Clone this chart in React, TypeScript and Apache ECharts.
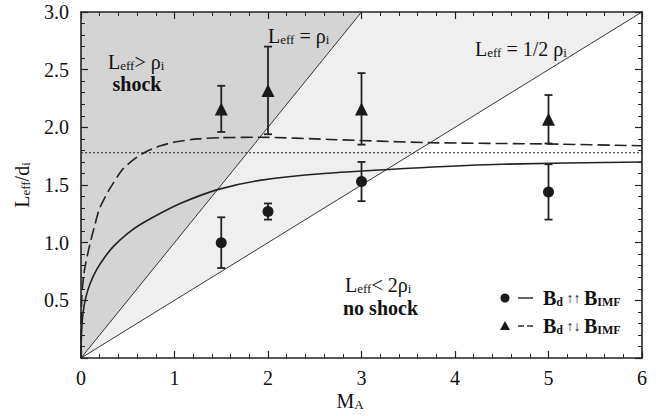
import React, { useEffect, useRef } from 'react';
import * as echarts from 'echarts';

// Measured data (M_A positions, mean L_eff/d_i, half error bar)
const machA = [1.5, 2, 3, 5];
const parallelMean = [1.0, 1.27, 1.53, 1.44];
const parallelErr = [0.22, 0.07, 0.17, 0.24];
const antiMean = [2.16, 2.32, 2.16, 2.07];
const antiErr = [0.2, 0.38, 0.31, 0.21];

// Model curves
const solidCurve: number[][] = [
  [0, 0], [0.005, 0.2], [0.02, 0.38], [0.05, 0.52], [0.1, 0.65], [0.17, 0.77],
  [0.25, 0.87], [0.35, 0.97], [0.5, 1.08], [0.63, 1.155], [0.85, 1.255], [1.06, 1.34],
  [1.46, 1.46], [1.91, 1.54], [2.6, 1.6], [3.63, 1.65], [4.5, 1.68], [6, 1.7],
];
const dashedCurve: number[][] = [
  [0, 0], [0.002, 0.3], [0.007, 0.5], [0.02, 0.65], [0.043, 0.79], [0.096, 0.99],
  [0.15, 1.16], [0.2, 1.3], [0.31, 1.47], [0.45, 1.64], [0.58, 1.73], [0.7, 1.79],
  [0.85, 1.84], [1.02, 1.875], [1.25, 1.9], [1.5, 1.91], [1.91, 1.914], [2.66, 1.895],
  [3.73, 1.867], [4.98, 1.856], [6, 1.84],
];
const thresholdLevel = 1.78;
const rhoBoundary: number[][] = [[0, 0], [3, 3]];
const halfRhoBoundary: number[][] = [[0, 0], [6, 3]];

const X_MIN = 0, X_MAX = 6, X_STEP = 1;
const Y_MIN = 0, Y_MAX = 3, Y_STEP = 0.5;

const SERIF = 'Liberation Serif, Tinos, Times New Roman, Times, DejaVu Serif, serif';
const INK = '#111';

const rich: any = {
  r: { fontFamily: SERIF, fontSize: 20, lineHeight: 20, verticalAlign: 'middle', fill: INK, color: INK },
  s: { fontFamily: SERIF, fontSize: 13, lineHeight: 9, verticalAlign: 'bottom', fill: INK, color: INK },
  b: { fontFamily: SERIF, fontSize: 20, fontWeight: 'bold', lineHeight: 20, verticalAlign: 'middle', fill: INK, color: INK },
  bl: { fontFamily: SERIF, fontSize: 20, fontWeight: 'bold', lineHeight: 20, verticalAlign: 'middle', fill: INK, color: INK },
  bs: { fontFamily: SERIF, fontSize: 12, fontWeight: 'bold', lineHeight: 8, verticalAlign: 'bottom', fill: INK, color: INK },
  ar: { fontFamily: SERIF, fontSize: 14, fontWeight: 'bold', lineHeight: 20, verticalAlign: 'middle', fill: INK, color: INK },
};

function txt(x: number, y: number, text: string, align = 'left', rotation = 0): any {
  return {
    type: 'text',
    x,
    y,
    rotation,
    z: 100,
    style: { text, rich, align, verticalAlign: 'middle', fill: INK, fontFamily: SERIF },
  };
}

export default function App() {
  const ref = useRef<HTMLDivElement>(null);
  useEffect(() => {
    const chart = echarts.init(ref.current!, null, { renderer: 'svg' });

    const axisCommon = {
      type: 'value',
      axisLine: { show: true, onZero: false, lineStyle: { color: '#222', width: 1.6 } },
      axisTick: { show: true, inside: true, length: 7, lineStyle: { color: '#222', width: 1.2 } },
      minorTick: { show: true, splitNumber: 5, length: 4, lineStyle: { color: '#222', width: 1 } },
      splitLine: { show: false },
      minorSplitLine: { show: false },
      z: 10,
    };
    const xLabel = { fontFamily: SERIF, fontSize: 20, color: INK, margin: 10 };
    const yLabel = {
      fontFamily: SERIF, fontSize: 20, color: INK, margin: 12,
      formatter: (v: number) => (v === 0 ? '' : v.toFixed(1)),
    };

    const errData = (xs: number[], m: number[], e: number[]) =>
      xs.map((x, i) => [x, m[i] - e[i], m[i] + e[i]]);

    const errorRender = (params: any, api: any) => {
      const x = api.value(0);
      const lo = api.coord([x, api.value(1)]);
      const hi = api.coord([x, api.value(2)]);
      const cap = 4;
      const st = { stroke: '#222', lineWidth: 1.8 };
      return {
        type: 'group',
        children: [
          { type: 'line', shape: { x1: lo[0], y1: lo[1], x2: hi[0], y2: hi[1] }, style: st },
          { type: 'line', shape: { x1: lo[0] - cap, y1: lo[1], x2: lo[0] + cap, y2: lo[1] }, style: st },
          { type: 'line', shape: { x1: hi[0] - cap, y1: hi[1], x2: hi[0] + cap, y2: hi[1] }, style: st },
        ],
      };
    };

    const option: any = {
      animation: false,
      backgroundColor: '#fff',
      textStyle: { fontFamily: SERIF },
      grid: { left: 81, right: 19, top: 12, bottom: 58, containLabel: false },
      xAxis: [
        { ...axisCommon, position: 'bottom', min: X_MIN, max: X_MAX, interval: X_STEP, axisLabel: xLabel },
        { ...axisCommon, position: 'top', min: X_MIN, max: X_MAX, interval: X_STEP, axisLabel: { show: false } },
      ],
      yAxis: [
        { ...axisCommon, position: 'left', min: Y_MIN, max: Y_MAX, interval: Y_STEP, axisLabel: yLabel },
        { ...axisCommon, position: 'right', min: Y_MIN, max: Y_MAX, interval: Y_STEP, axisLabel: { show: false } },
      ],
      series: [
        {
          type: 'line', data: halfRhoBoundary, symbol: 'none', z: 1,
          lineStyle: { color: '#222', width: 0.9 },
          areaStyle: { origin: 'end', color: '#efefef', opacity: 1 },
        },
        {
          type: 'line', data: rhoBoundary, symbol: 'none', z: 1,
          lineStyle: { color: '#222', width: 0.9 },
          areaStyle: { origin: 'end', color: '#d4d4d4', opacity: 1 },
        },
        {
          type: 'line', data: [[X_MIN, thresholdLevel], [X_MAX, thresholdLevel]], symbol: 'none', z: 3,
          lineStyle: { color: '#222', width: 1.1, type: [2, 2] },
        },
        {
          type: 'line', data: solidCurve, symbol: 'none', smooth: 0.25, z: 4,
          lineStyle: { color: '#222', width: 1.6 },
        },
        {
          type: 'line', data: dashedCurve, symbol: 'none', smooth: 0.25, z: 4,
          lineStyle: { color: '#222', width: 1.6, type: [12, 5] },
        },
        { type: 'custom', data: errData(machA, parallelMean, parallelErr), renderItem: errorRender, z: 5 },
        { type: 'custom', data: errData(machA, antiMean, antiErr), renderItem: errorRender, z: 5 },
        {
          type: 'scatter', data: machA.map((x, i) => [x, parallelMean[i]]), symbol: 'circle', symbolSize: 11, z: 6,
          itemStyle: { color: '#1a1a1a', opacity: 1 },
        },
        {
          type: 'scatter', data: machA.map((x, i) => [x, antiMean[i]]), symbol: 'triangle', symbolSize: 13, z: 6,
          itemStyle: { color: '#1a1a1a', opacity: 1 },
        },
      ],
      graphic: [
        txt(108, 62, '{r|L}{s|eff}{r|> ρ}{s|i}'),
        txt(137, 84, '{b|shock}', 'center'),
        txt(268, 36, '{r|L}{s|eff}{r| = ρ}{s|i}'),
        txt(475, 49, '{r|L}{s|eff}{r| = 1/2 ρ}{s|i}'),
        txt(345, 285, '{r|L}{s|eff}{r|< 2ρ}{s|i}'),
        txt(343, 308, '{b|no shock}'),
        // legend
        { type: 'circle', shape: { cx: 505, cy: 298, r: 4.5 }, style: { fill: '#1a1a1a' }, z: 100 },
        { type: 'line', shape: { x1: 518, y1: 298, x2: 533, y2: 298 }, style: { stroke: '#222', lineWidth: 1.4 }, z: 100 },
        txt(543, 298, '{bl|B}{bs|d}{ar| ↑↑ }{bl|B}{bs|IMF}'),
        { type: 'polygon', shape: { points: [[505, 321], [500, 330], [510, 330]] }, style: { fill: '#1a1a1a' }, z: 100 },
        { type: 'line', shape: { x1: 518, y1: 326, x2: 524, y2: 326 }, style: { stroke: '#222', lineWidth: 1.4 }, z: 100 },
        { type: 'line', shape: { x1: 527, y1: 326, x2: 533, y2: 326 }, style: { stroke: '#222', lineWidth: 1.4 }, z: 100 },
        txt(543, 326, '{bl|B}{bs|d}{ar| ↑↓ }{bl|B}{bs|IMF}'),
        // axis titles
        txt(350, 401, '{r|M}{s|A}', 'center'),
        txt(22, 185, '{r|L}{s|eff}{r|/d}{s|i}', 'center', Math.PI / 2),
      ],
    };
    chart.setOption(option);
    return () => chart.dispose();
  }, []);
  return <div ref={ref} style={{ position: 'fixed', left: 0, top: 0, width: 661, height: 416 }} />;
}
